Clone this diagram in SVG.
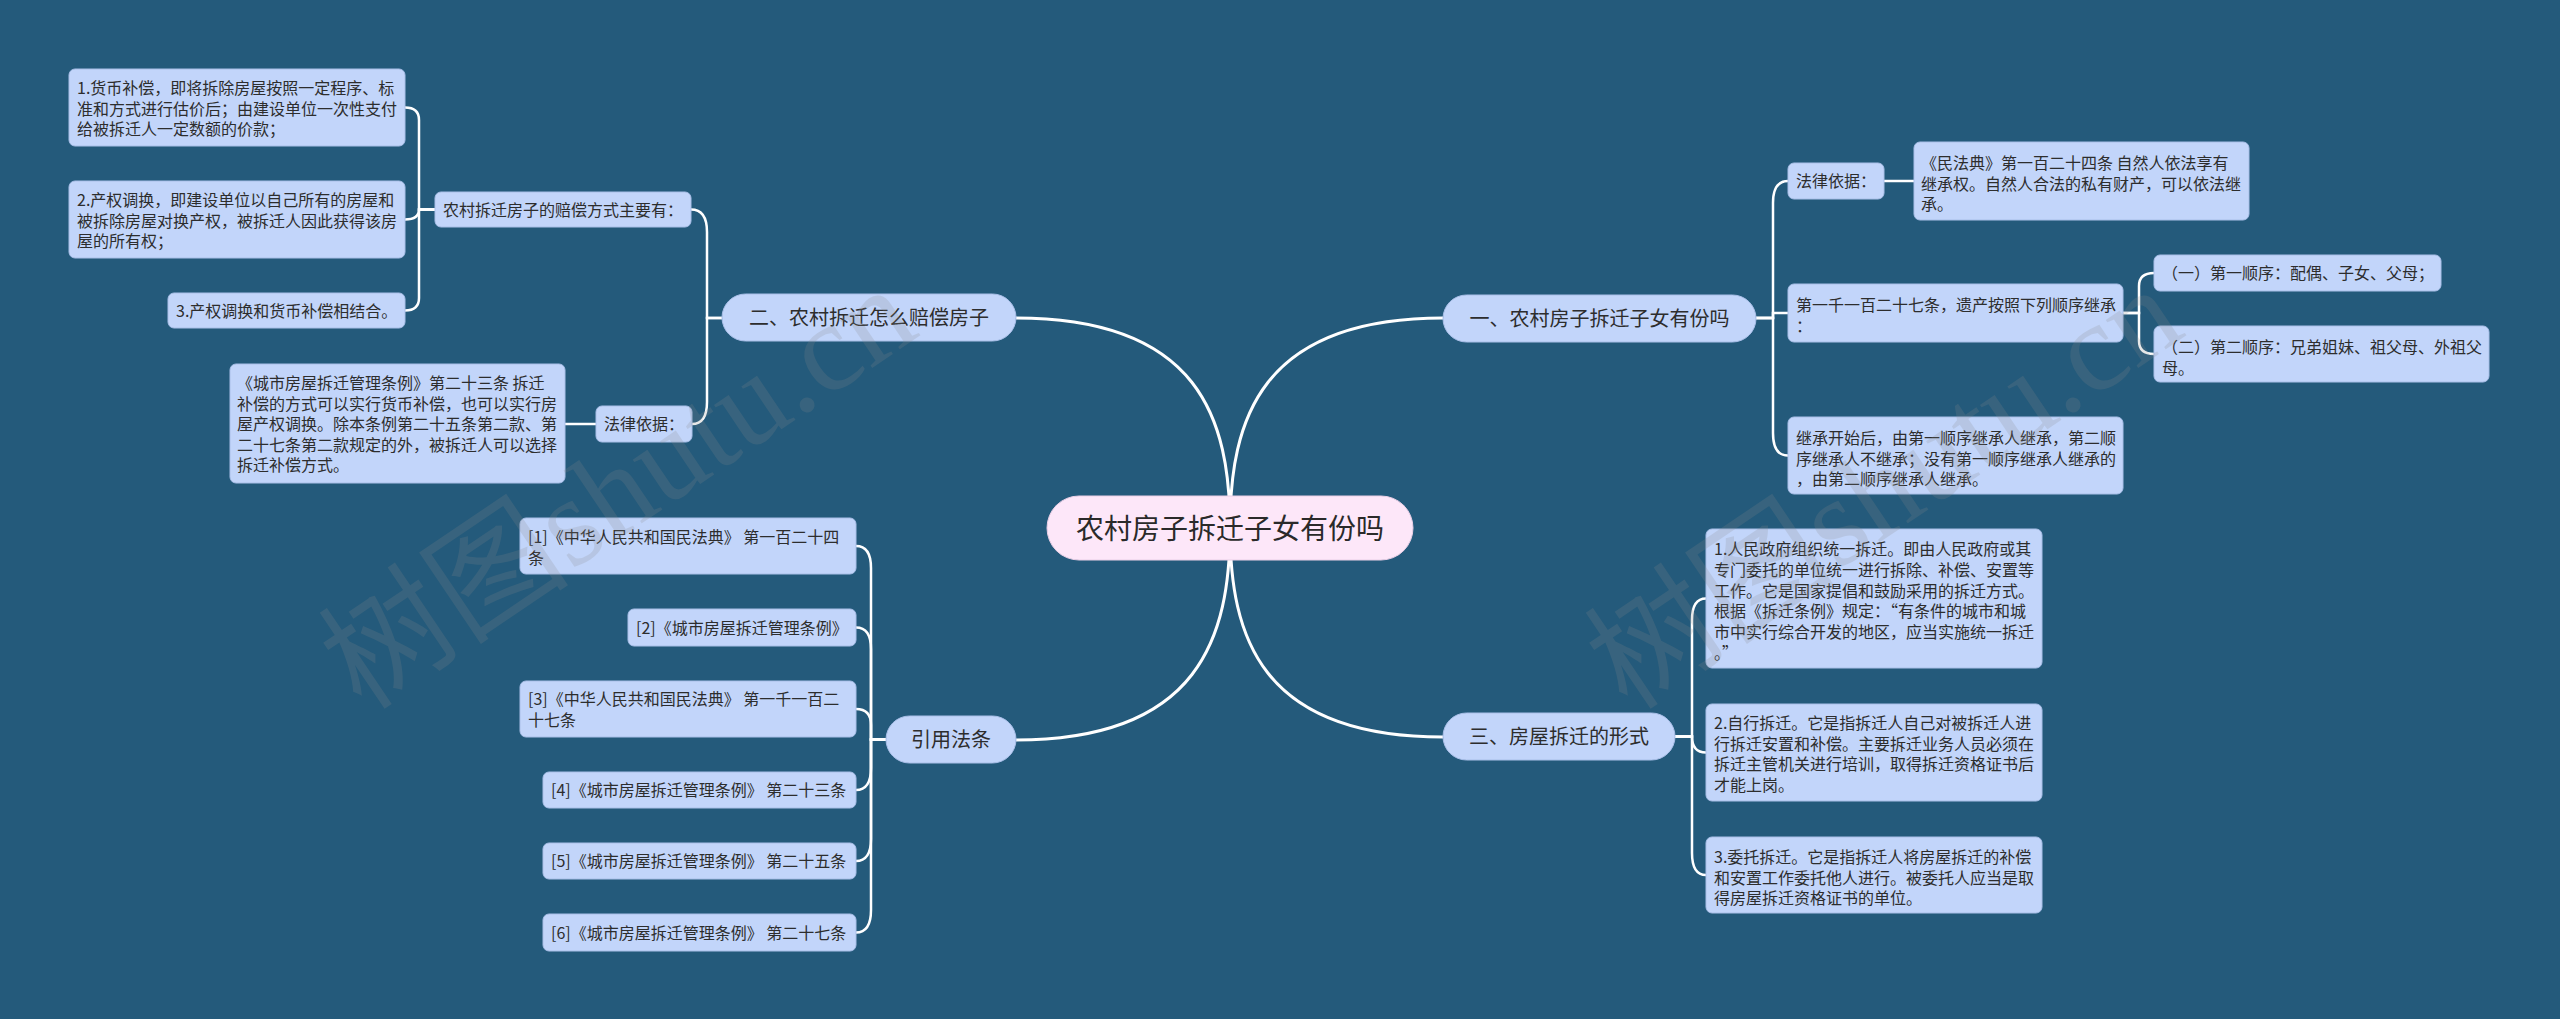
<svg xmlns="http://www.w3.org/2000/svg" width="2560" height="1019" viewBox="0 0 2560 1019">
<style>
.bg{fill:#245a7b}
.n{fill:#c2d5fa;stroke:#a9bfe8;stroke-width:1}
.c{fill:#fde7f9;stroke:#e9cfe6;stroke-width:1}
.t{font-family:"Noto Sans CJK SC","Microsoft YaHei",sans-serif;font-size:16px;fill:#2d2d2d}
.t1{font-family:"Noto Sans CJK SC","Microsoft YaHei",sans-serif;font-size:20px;fill:#2d2d2d;text-anchor:middle}
.t0{font-family:"Noto Sans CJK SC","Microsoft YaHei",sans-serif;font-size:28px;fill:#2a2a2a;text-anchor:middle}
.l0{fill:none;stroke:#ffffff;stroke-width:3}
.l{fill:none;stroke:#ffffff;stroke-width:2.5}
.wm{font-family:"Liberation Serif","Noto Sans CJK SC",serif;font-size:126px;fill:#8a8a8a;opacity:0.2}
</style>
<rect class="bg" x="0" y="0" width="2560" height="1019"/>

<g id="connectors">
<path class="l0" d="M1230,528 C1230,420 1260,318 1443,318"/>
<path class="l0" d="M1230,528 C1230,420 1200,318 1016,318"/>
<path class="l0" d="M1230,528 C1230,636 1260,737 1443,737"/>
<path class="l0" d="M1230,528 C1230,636 1200,740 1016,740"/>

<path class="l" d="M722,318 H707 V232 Q707,209.5 691,209.5"/>
<path class="l" d="M722,318 H707 V402 Q707,424 692,424"/>

<path class="l" d="M435,209.5 H419 V120 Q419,107.5 405,107.5"/>
<path class="l" d="M435,209.5 H419 Q419,219.5 405,219.5"/>
<path class="l" d="M435,209.5 H419 V298 Q419,310.5 405,310.5"/>
<path class="l" d="M596,424 H565"/>

<path class="l" d="M886,739.5 H871 V568 Q871,546 856,546"/>
<path class="l" d="M886,739.5 H871 V649 Q871,627.5 856,627.5"/>
<path class="l" d="M886,739.5 H871 V725 Q871,709 856,709"/>
<path class="l" d="M886,739.5 H871 V768 Q871,790 856,790"/>
<path class="l" d="M886,739.5 H871 V839 Q871,861 856,861"/>
<path class="l" d="M886,739.5 H871 V910 Q871,932.5 856,932.5"/>

<path class="l" d="M1756,318 H1773 V203 Q1773,181 1788,181"/>
<path class="l" d="M1756,318 H1773 V313 H1788"/>
<path class="l" d="M1756,318 H1773 V433 Q1773,455.5 1788,455.5"/>
<path class="l" d="M1884,181 H1914"/>
<path class="l" d="M2123,313 H2139 V286 Q2139,273 2154,273"/>
<path class="l" d="M2123,313 H2139 V341 Q2139,354 2154,354"/>

<path class="l" d="M1675,736.5 H1692 V620 Q1692,598.5 1706,598.5"/>
<path class="l" d="M1675,736.5 H1692 Q1692,752.5 1706,752.5"/>
<path class="l" d="M1675,736.5 H1692 V853 Q1692,875 1706,875"/>
</g>

<g id="center">
<rect class="c" x="1047" y="496" width="366" height="64" rx="32"/>
<text class="t0" x="1230" y="538.5">农村房子拆迁子女有份吗</text>
</g>

<g id="b1">
<rect class="n" x="1443" y="295" width="313" height="47" rx="23.5"/>
<text class="t1" x="1599.5" y="326">一、农村房子拆迁子女有份吗</text>
</g>
<g id="b2">
<rect class="n" x="722" y="294" width="294" height="47" rx="23.5"/>
<text class="t1" x="869" y="325">二、农村拆迁怎么赔偿房子</text>
</g>
<g id="b3">
<rect class="n" x="1443" y="713" width="232" height="47" rx="23.5"/>
<text class="t1" x="1559" y="744">三、房屋拆迁的形式</text>
</g>
<g id="b4">
<rect class="n" x="886" y="716" width="130" height="47" rx="23.5"/>
<text class="t1" x="951" y="747">引用法条</text>
</g>

<g id="l2a">
<rect class="n" x="435" y="192" width="256" height="35" rx="6"/>
<text class="t" x="443" y="215.5">农村拆迁房子的赔偿方式主要有：</text>
</g>
<g id="l3a1">
<rect class="n" x="69" y="69" width="336" height="77" rx="6"/>
<text class="t" x="77" y="94"><tspan x="77">1.货币补偿，即将拆除房屋按照一定程序、标</tspan><tspan x="77" dy="20.6">准和方式进行估价后；由建设单位一次性支付</tspan><tspan x="77" dy="20.6">给被拆迁人一定数额的价款；</tspan></text>
</g>
<g id="l3a2">
<rect class="n" x="69" y="181" width="336" height="77" rx="6"/>
<text class="t" x="77" y="206"><tspan x="77">2.产权调换，即建设单位以自己所有的房屋和</tspan><tspan x="77" dy="20.6">被拆除房屋对换产权，被拆迁人因此获得该房</tspan><tspan x="77" dy="20.6">屋的所有权；</tspan></text>
</g>
<g id="l3a3">
<rect class="n" x="168" y="293" width="237" height="35" rx="6"/>
<text class="t" x="176" y="316.5">3.产权调换和货币补偿相结合。</text>
</g>
<g id="l2b">
<rect class="n" x="596" y="406" width="96" height="36" rx="6"/>
<text class="t" x="604" y="430">法律依据：</text>
</g>
<g id="l3b1">
<rect class="n" x="230" y="364" width="335" height="119" rx="6"/>
<text class="t" x="237" y="389"><tspan x="237">《城市房屋拆迁管理条例》第二十三条 拆迁</tspan><tspan x="237" dy="20.6">补偿的方式可以实行货币补偿，也可以实行房</tspan><tspan x="237" dy="20.6">屋产权调换。除本条例第二十五条第二款、第</tspan><tspan x="237" dy="20.6">二十七条第二款规定的外，被拆迁人可以选择</tspan><tspan x="237" dy="20.6">拆迁补偿方式。</tspan></text>
</g>

<g id="r1">
<rect class="n" x="520" y="518" width="336" height="56" rx="6"/>
<text class="t" x="528" y="543"><tspan x="528">[1]《中华人民共和国民法典》 第一百二十四</tspan><tspan x="528" dy="20.6">条</tspan></text>
</g>
<g id="r2">
<rect class="n" x="628" y="609" width="228" height="37" rx="6"/>
<text class="t" x="636" y="633.5">[2]《城市房屋拆迁管理条例》</text>
</g>
<g id="r3">
<rect class="n" x="520" y="681" width="336" height="56" rx="6"/>
<text class="t" x="528" y="705"><tspan x="528">[3]《中华人民共和国民法典》 第一千一百二</tspan><tspan x="528" dy="20.6">十七条</tspan></text>
</g>
<g id="r4">
<rect class="n" x="543" y="772" width="313" height="36" rx="6"/>
<text class="t" x="551" y="796">[4]《城市房屋拆迁管理条例》 第二十三条</text>
</g>
<g id="r5">
<rect class="n" x="543" y="843" width="313" height="36" rx="6"/>
<text class="t" x="551" y="867">[5]《城市房屋拆迁管理条例》 第二十五条</text>
</g>
<g id="r6">
<rect class="n" x="543" y="914" width="313" height="37" rx="6"/>
<text class="t" x="551" y="938.5">[6]《城市房屋拆迁管理条例》 第二十七条</text>
</g>

<g id="n1">
<rect class="n" x="1788" y="163" width="96" height="36" rx="6"/>
<text class="t" x="1796" y="187">法律依据：</text>
</g>
<g id="n1a">
<rect class="n" x="1914" y="142" width="335" height="78" rx="6"/>
<text class="t" x="1921" y="169"><tspan x="1921">《民法典》第一百二十四条 自然人依法享有</tspan><tspan x="1921" dy="20.6">继承权。自然人合法的私有财产，可以依法继</tspan><tspan x="1921" dy="20.6">承。</tspan></text>
</g>
<g id="n2">
<rect class="n" x="1788" y="284" width="335" height="58" rx="6"/>
<text class="t" x="1796" y="311"><tspan x="1796">第一千一百二十七条，遗产按照下列顺序继承</tspan><tspan x="1796" dy="20.6">：</tspan></text>
</g>
<g id="n2a">
<rect class="n" x="2154" y="255" width="287" height="36" rx="6"/>
<text class="t" x="2162" y="279">（一）第一顺序：配偶、子女、父母；</text>
</g>
<g id="n2b">
<rect class="n" x="2154" y="326" width="335" height="56" rx="6"/>
<text class="t" x="2162" y="353"><tspan x="2162">（二）第二顺序：兄弟姐妹、祖父母、外祖父</tspan><tspan x="2162" dy="20.6">母。</tspan></text>
</g>
<g id="n3">
<rect class="n" x="1788" y="417" width="335" height="77" rx="6"/>
<text class="t" x="1796" y="444"><tspan x="1796">继承开始后，由第一顺序继承人继承，第二顺</tspan><tspan x="1796" dy="20.6">序继承人不继承；没有第一顺序继承人继承的</tspan><tspan x="1796" dy="20.6">，由第二顺序继承人继承。</tspan></text>
</g>

<g id="m1">
<rect class="n" x="1706" y="529" width="336" height="139" rx="6"/>
<text class="t" x="1714" y="555"><tspan x="1714">1.人民政府组织统一拆迁。即由人民政府或其</tspan><tspan x="1714" dy="20.8">专门委托的单位统一进行拆除、补偿、安置等</tspan><tspan x="1714" dy="20.8">工作。它是国家提倡和鼓励采用的拆迁方式。</tspan><tspan x="1714" dy="20.8">根据《拆迁条例》规定：“有条件的城市和城</tspan><tspan x="1714" dy="20.8">市中实行综合开发的地区，应当实施统一拆迁</tspan><tspan x="1714" dy="20.8">。”</tspan></text>
</g>
<g id="m2">
<rect class="n" x="1706" y="704" width="336" height="97" rx="6"/>
<text class="t" x="1714" y="729"><tspan x="1714">2.自行拆迁。它是指拆迁人自己对被拆迁人进</tspan><tspan x="1714" dy="20.6">行拆迁安置和补偿。主要拆迁业务人员必须在</tspan><tspan x="1714" dy="20.6">拆迁主管机关进行培训，取得拆迁资格证书后</tspan><tspan x="1714" dy="20.6">才能上岗。</tspan></text>
</g>
<g id="m3">
<rect class="n" x="1706" y="837" width="336" height="76" rx="6"/>
<text class="t" x="1714" y="863"><tspan x="1714">3.委托拆迁。它是指拆迁人将房屋拆迁的补偿</tspan><tspan x="1714" dy="20.6">和安置工作委托他人进行。被委托人应当是取</tspan><tspan x="1714" dy="20.6">得房屋拆迁资格证书的单位。</tspan></text>
</g>

<g id="watermark">
<text class="wm" x="362" y="712" transform="rotate(-34 362 712)">树图shutu.cn</text>
<text class="wm" x="1628" y="712" transform="rotate(-34 1628 712)">树图shutu.cn</text>
</g>
</svg>
